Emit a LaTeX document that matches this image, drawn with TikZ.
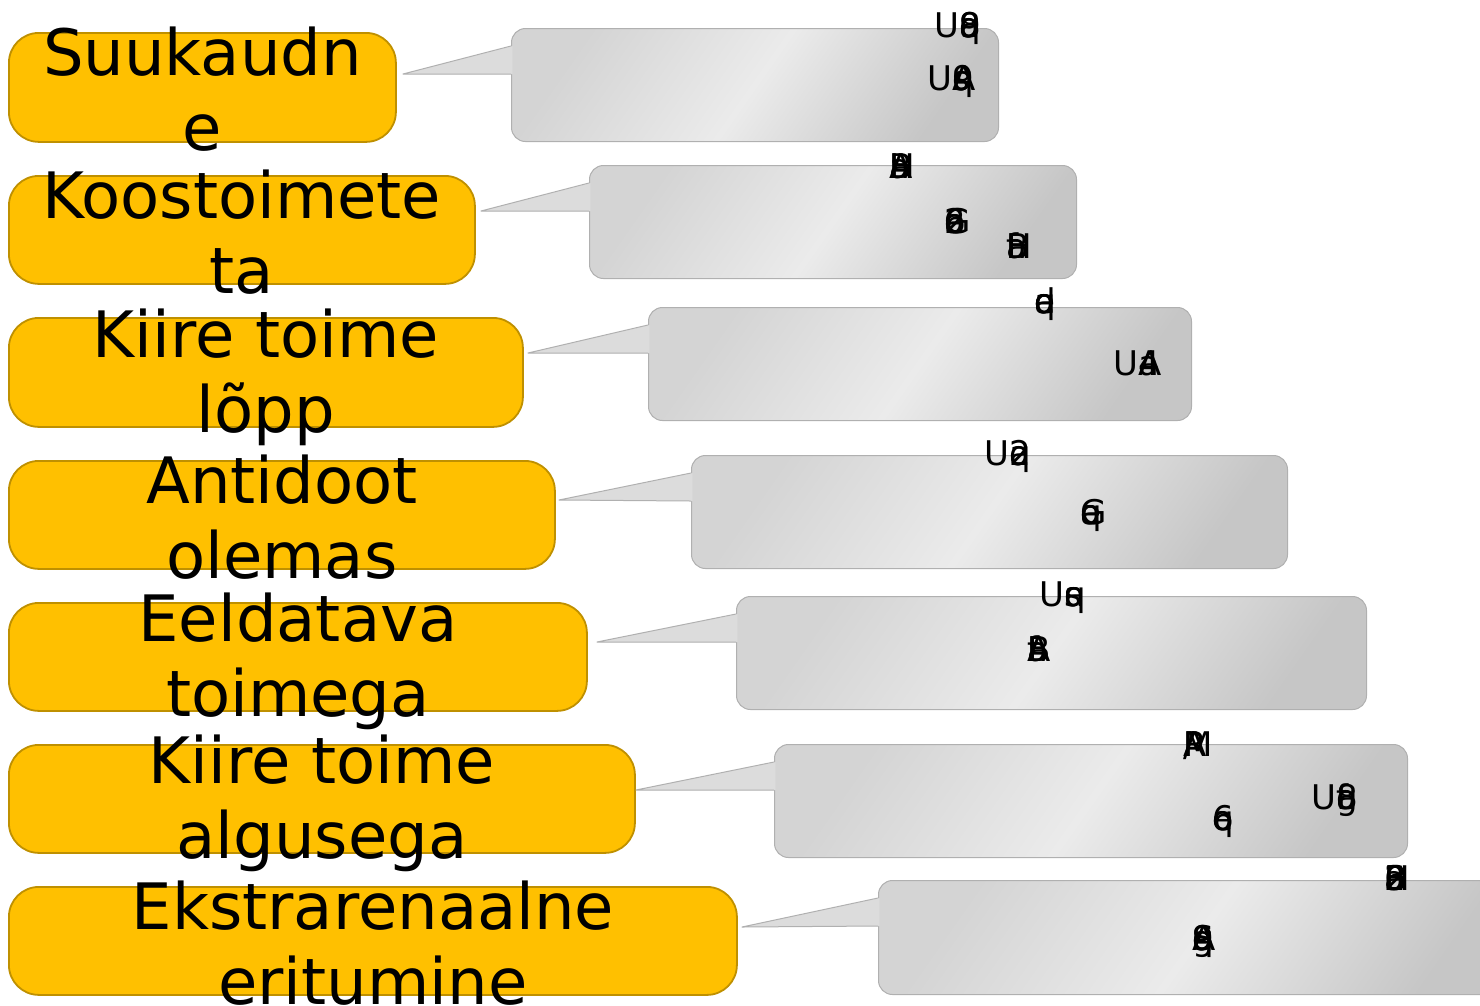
\documentclass[tikz,border=0pt]{standalone}
\usepackage{fontspec}
\setmainfont{DejaVu Sans}
\usetikzlibrary{calc}
\definecolor{boxfill}{HTML}{FFC000}
\definecolor{boxline}{HTML}{BF9000}
\definecolor{coline}{HTML}{B0B0B0}
\definecolor{gleft}{HTML}{D4D4D4}
\definecolor{gmid}{HTML}{EBEBEB}
\definecolor{gright}{HTML}{C6C6C6}
\definecolor{ptrcol}{HTML}{DCDCDC}
\newcommand{\ov}[1]{\makebox[0pt][l]{#1}}
\tikzset{
  ybox/.style={draw=boxline, fill=boxfill, line width=1.8pt, rounded corners=30pt,
    inner sep=0pt, anchor=north west},
  ytext/.style={font=\fontsize{64}{75}\selectfont, align=center, inner sep=0pt, text=black},
  callrect/.style={draw=coline, line width=1pt, rounded corners=14pt, inner sep=0pt,
    anchor=north west, minimum height=113pt,
    left color=gleft, right color=gright, middle color=gmid, shading angle=55},
  ptrfill/.style={fill=ptrcol},
  ptredge/.style={draw=coline, line width=1pt, line join=round},
  glyph/.style={font=\fontsize{34}{38}\selectfont, inner sep=0pt, text=black}
}
\begin{document}
\begin{tikzpicture}[x=1pt, y=-1pt]
\useasboundingbox (0,0) rectangle (1480,1005);
\fill[white] (0,0) rectangle (1480,1005);

% yellow boxes
\node[ybox, minimum width=387pt, minimum height=109pt] (b1) at (8,32) {};
\node[ybox, minimum width=466pt, minimum height=108pt] (b2) at (8,175) {};
\node[ybox, minimum width=514pt, minimum height=109pt] (b3) at (8,317) {};
\node[ybox, minimum width=546pt, minimum height=108pt] (b4) at (8,460) {};
\node[ybox, minimum width=578pt, minimum height=108pt] (b5) at (8,602) {};
\node[ybox, minimum width=626pt, minimum height=108pt] (b6) at (8,744) {};
\node[ybox, minimum width=728pt, minimum height=108pt] (b7) at (8,886) {};

\node[ytext] (l1) at ($(b1.center)+(0,2)$) {Suukaudn\\e};
\node[ytext] (l2) at ($(b2.center)+(0,2)$) {Koostoimete\\ta};
\node[ytext] (l3) at ($(b3.center)+(0,5)$) {Kiire toime\\lõpp};
\node[ytext] (l4) at ($(b4.center)+(0,2)$) {Antidoot\\olemas};
\node[ytext] (l5) at ($(b5.center)+(0,4)$) {Eeldatava\\toimega};
\node[ytext] (l6) at ($(b6.center)+(0,4)$) {Kiire toime\\algusega};
\node[ytext] (l7) at ($(b7.center)+(0,2)$) {Ekstrarenaalne\\eritumine};

% callout rectangles
\node[callrect, minimum width=487pt] (c1) at (511,28) {};
\node[callrect, minimum width=487pt] (c2) at (589,165) {};
\node[callrect, minimum width=543pt] (c3) at (648,307) {};
\node[callrect, minimum width=596pt] (c4) at (691,455) {};
\node[callrect, minimum width=630pt] (c5) at (736,596) {};
\node[callrect, minimum width=633pt] (c6) at (774,744) {};
\node[callrect, minimum width=640pt, minimum height=114pt] (c7) at (878,880) {};

% pointer tips
\coordinate (t1) at (403,74);
\coordinate (t2) at (481,211);
\coordinate (t3) at (528,353);
\coordinate (t4) at (559,500);
\coordinate (t5) at (597,642);
\coordinate (t6) at (636,790);
\coordinate (t7) at (742,927);

\foreach \i in {1,...,7}{
  \fill[ptrfill] (t\i) -- ($(c\i.north west)+(1.5,18)$) -- ($(c\i.north west)+(1.5,46)$) -- cycle;
  \draw[ptredge] ($(c\i.north west)+(0,18)$) -- (t\i) -- ($(c\i.north west)+(0,46)$);
}

% garbled glyph clusters
\node[glyph] (g1) at (958,28) {U\ov{q}\ov{a}\ov{8}9};
\node[glyph] (g2) at (951,81) {U\ov{s}\ov{A}\ov{9}q};
\node[glyph] (g3) at (900,166) {\ov{H}\ov{A}\ov{B}a};
\node[glyph] (g4) at (955,221) {\ov{G}\ov{6}\ov{2}\ov{a}e};
\node[glyph] (g5) at (1012,246) {\ov{H}\ov{a}\ov{B}f};
\node[glyph] (g6) at (1045,304) {\ov{e}\ov{q}\ov{a}d};
\node[glyph] (g7) at (1137,363) {U\ov{A}\ov{a}4};
\node[glyph] (g8) at (1008,456) {U\ov{2}\ov{a}q};
\node[glyph] (g9) at (1091,515) {\ov{G}\ov{e}\ov{a}q};
\node[glyph] (g10) at (1063,598) {U\ov{s}\ov{a}q};
\node[glyph] (g11) at (1038,649) {\ov{I}\ov{A}\ov{f}\ov{B}a};
\node[glyph] (g12) at (1195,746) {\ov{A}\ov{M}\ov{/}R};
\node[glyph] (g13) at (1223,821) {\ov{6}\ov{e}q};
\node[glyph] (g14) at (1334,800) {U\ov{g}\ov{f}\ov{8}a};
\node[glyph] (g15) at (1395,878) {\ov{6}\ov{H}\ov{2}\ov{B}a};
\node[glyph] (g16) at (1203,941) {\ov{g}\ov{S}\ov{A}\ov{9}q};
\end{tikzpicture}
\end{document}
